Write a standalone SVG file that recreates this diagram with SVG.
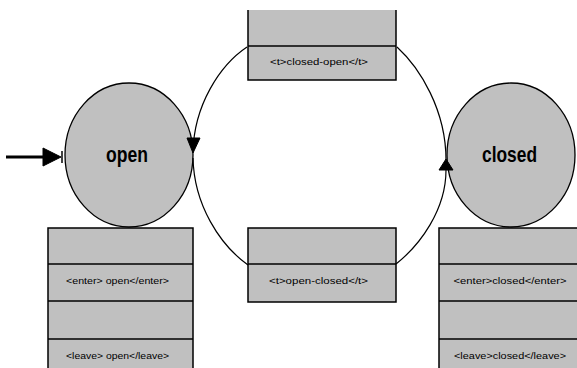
<svg xmlns="http://www.w3.org/2000/svg" width="577" height="368" viewBox="0 0 577 368">
  <style>
    .fill { fill: #c0c0c0; }
    .edge { fill: none; stroke: #000; stroke-width: 1.5; }
    .state { fill: #c0c0c0; stroke: #000; stroke-width: 1.3; }
    .name { font-family: "Liberation Sans", Arial, sans-serif; font-weight: bold; font-size: 22px; fill: #000; text-anchor: middle; }
    .tag { font-family: "Liberation Sans", Arial, sans-serif; font-size: 9px; fill: #000; text-anchor: middle; }
    .wire { fill: none; stroke: #000; stroke-width: 1.2; }
    .head { fill: #000; stroke: #000; stroke-width: 1; }
  </style>
  <rect width="577" height="368" fill="#fff"/>

  <!-- state "open" with its entry/exit compartments -->
  <g id="open">
    <rect class="fill" x="48" y="228" width="145" height="145"/>
    <path class="edge" d="M48,373 V228 H193 V373 M48,264 H193 M48,301 H193 M48,339 H193"/>
    <text class="tag" x="117.5" y="284" textLength="103" lengthAdjust="spacingAndGlyphs">&lt;enter&gt; open&lt;/enter&gt;</text>
    <text class="tag" x="117.5" y="359" textLength="103" lengthAdjust="spacingAndGlyphs">&lt;leave&gt; open&lt;/leave&gt;</text>
    <ellipse class="state" cx="129" cy="155" rx="64" ry="72"/>
    <text class="name" x="127" y="162" textLength="42" lengthAdjust="spacingAndGlyphs">open</text>
  </g>

  <!-- state "closed" with its entry/exit compartments -->
  <g id="closed">
    <rect class="fill" x="439" y="228" width="145" height="145"/>
    <path class="edge" d="M439,373 V228 H584 M439,264 H584 M439,301 H584 M439,339 H584"/>
    <text class="tag" x="510" y="284" textLength="113" lengthAdjust="spacingAndGlyphs">&lt;enter&gt;closed&lt;/enter&gt;</text>
    <text class="tag" x="510" y="359" textLength="112" lengthAdjust="spacingAndGlyphs">&lt;leave&gt;closed&lt;/leave&gt;</text>
    <ellipse class="state" cx="511" cy="155" rx="64" ry="72"/>
    <text class="name" x="509.5" y="162" textLength="55" lengthAdjust="spacingAndGlyphs">closed</text>
  </g>

  <!-- transition box closed -> open -->
  <g id="t-closed-open">
    <rect class="fill" x="248" y="10" width="148" height="70"/>
    <path class="edge" d="M248,10 V80 H396 V10 M248,46 H396"/>
    <text class="tag" x="319" y="65" textLength="98" lengthAdjust="spacingAndGlyphs">&lt;t&gt;closed-open&lt;/t&gt;</text>
  </g>

  <!-- transition box open -> closed -->
  <g id="t-open-closed">
    <rect class="fill" x="248" y="228" width="148" height="74"/>
    <path class="edge" d="M248,228 V302 H396 V228 Z M248,264 H396"/>
    <text class="tag" x="318.5" y="284" textLength="99" lengthAdjust="spacingAndGlyphs">&lt;t&gt;open-closed&lt;/t&gt;</text>
  </g>

  <!-- connectors -->
  <g id="connectors">
    <line x1="6" y1="157" x2="46" y2="157" stroke="#000" stroke-width="3"/>
    <polygon class="head" points="43,148 61,157 43,166"/>
    <line x1="62" y1="151" x2="62" y2="163" stroke="#000" stroke-width="1.5"/>

    <path class="wire" d="M397,47 C420,68 446,110 446,160"/>
    <path class="wire" d="M247,47 C220,65 194,105 193,152"/>
    <polygon class="head" points="187,138 200,138 193,153"/>

    <path class="wire" d="M193,158 C194,205 220,245 248,265"/>
    <path class="wire" d="M396,264 C420,245 446,210 446,170"/>
    <polygon class="head" points="439,170 453,170 446,159"/>
  </g>
</svg>
